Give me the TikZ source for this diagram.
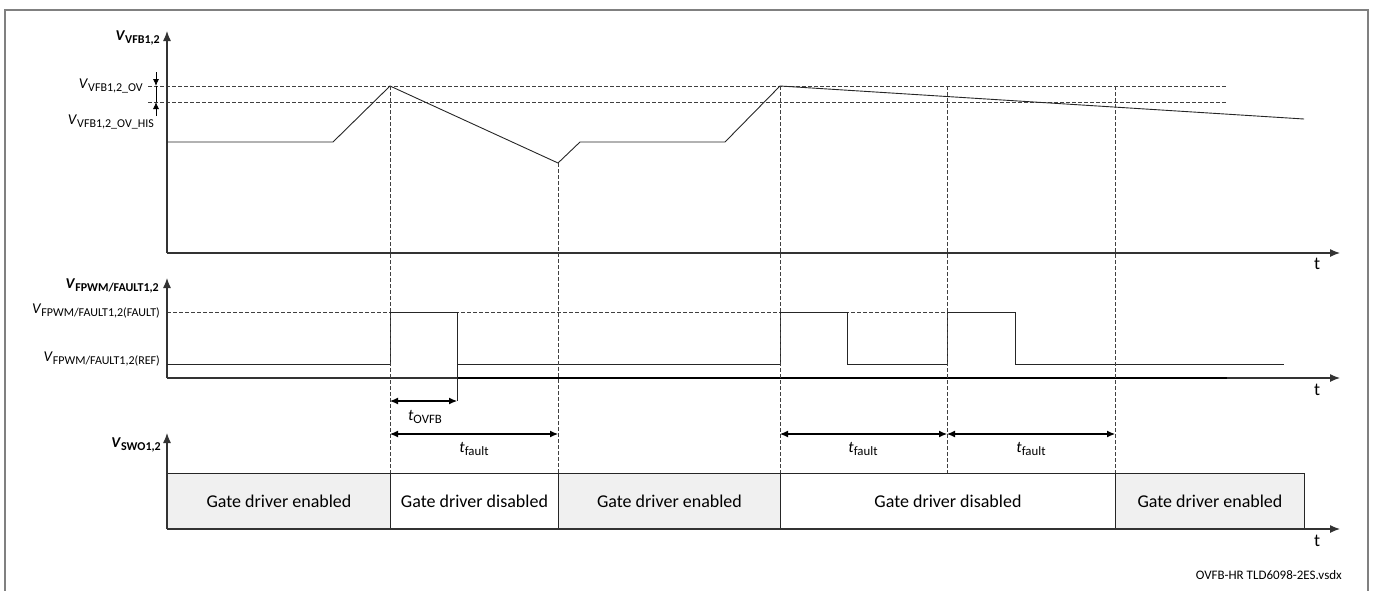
\documentclass[tikz,border=0pt]{standalone}
\usepackage{fontspec}
\usepackage{graphicx}
\setmainfont{Carlito}
\usetikzlibrary{arrows.meta}
\newcommand\sbx[1]{\raisebox{-0.35ex}{\scalebox{0.8}{#1}}}
\newcommand\lblV[1]{\textit{V}\sbx{#1}}
\newcommand\lblVb[1]{\textbf{\textit{V}\sbx{#1}}}
\newcommand\lblt[1]{\textit{t}\sbx{#1}}
\tikzset{
  frameline/.style={draw=black!50, line width=2pt},
  axisline/.style={draw=black!80, line width=1.2pt, -{Latex[length=10pt,width=8pt]}},
  sig/.style={draw=black!85, line width=0.9pt},
  guide/.style={draw=black!75, line width=0.8pt, dash pattern=on 3.5pt off 2.5pt},
  dimline/.style={draw=black, line width=1.1pt, {Latex[length=8pt,width=7pt]}-{Latex[length=8pt,width=7pt]}},
  smallarr/.style={draw=black, line width=0.8pt, -{Latex[length=7pt,width=6pt]}},
  lab/.style={font=\fontsize{15}{17}\selectfont, inner sep=0pt, anchor=east},
  tlab/.style={font=\fontsize{18}{20}\selectfont, inner sep=0pt},
  dlab/.style={font=\fontsize{16}{18}\selectfont, inner sep=0pt},
  gbox/.style={draw=black!85, line width=0.9pt, fill=black!6},
  wbox/.style={draw=black!85, line width=0.9pt, fill=white},
  btext/.style={font=\fontsize{18}{20}\selectfont, inner sep=0pt},
}
\begin{document}
\begin{tikzpicture}[x=1pt,y=-1pt]
\useasboundingbox (0,0) rectangle (1373,590);
% frame
\draw[frameline] (5,591) -- (5,10) -- (1368,10) -- (1368,591);

% ---------- top plot ----------
\coordinate (o1) at (167,253);
\coordinate (y1) at (167,31);
\coordinate (x1) at (1340,253);
\draw[guide] (148,86) -- (1227,86);
\draw[guide] (148,102) -- (1227,102);
\draw[axisline] (o1) -- (y1);
\draw[axisline] (o1) -- (x1);
\node[tlab, anchor=north] (t1) at (1317,258) {t};
\node[lab] (ly1) at (160,38) {\lblVb{VFB1,2}};
\node[lab] (lov) at (143,86) {\lblV{VFB1,2\_OV}};
\node[lab] (lhis) at (154,122) {\lblV{VFB1,2\_OV\_HIS}};
% hysteresis arrows
\coordinate (h0) at (156,72);
\coordinate (h1) at (156,86);
\coordinate (h2) at (156,102);
\coordinate (h3) at (156,116);
\draw[smallarr] (h0) -- (h1);
\draw[smallarr] (h3) -- (h2);
\draw[draw=black, line width=0.8pt] (h1) -- (h2);
% signal
\coordinate (p1) at (390,86);
\coordinate (v1) at (558,163);
\coordinate (p2) at (780,86);
\draw[sig] (167,142) -- (333,142) -- (p1) -- (v1) -- (580,142) -- (725,142) -- (p2) -- (1304,119);

% ---------- middle plot ----------
\coordinate (o2) at (167,378);
\coordinate (y2) at (167,278);
\coordinate (x2) at (1340,378);
\draw[guide] (167,312) -- (947,312);
\draw[axisline] (o2) -- (y2);
\draw[axisline] (o2) -- (x2);
\draw[draw=black, line width=1.6pt] (457,378) -- (1227,378);
\node[tlab, anchor=north] (t2) at (1317,384) {t};
\node[lab] (ly2) at (159,286) {\lblVb{FPWM/FAULT1,2}};
\node[lab] (lf) at (160,311) {\lblV{FPWM/FAULT1,2(FAULT)}};
\node[lab] (lr) at (160,359) {\lblV{FPWM/FAULT1,2(REF)}};
\draw[sig] (167,364) -- (390,364) -- (390,312) -- (457,312) -- (457,364) -- (780,364)
  -- (780,312) -- (847,312) -- (847,364) -- (947,364) -- (947,312) -- (1015,312)
  -- (1015,364) -- (1284,364);
\draw[sig] (457,364) -- (457,401);

% ---------- vertical guides ----------
\draw[guide] (p1) -- (390,473);
\draw[guide] (v1) -- (558,473);
\draw[guide] (p2) -- (780,473);
\draw[guide] (947,86) -- (947,473);
\draw[guide] (1115,86) -- (1115,473);

% ---------- timing arrows ----------
\coordinate (a1) at (390,401);
\coordinate (a2) at (457,401);
\draw[dimline] (a1) -- (a2);
\node[dlab] (tov) at (425,417) {\lblt{OVFB}};
\coordinate (b1) at (390,434);
\coordinate (b2) at (558,434);
\draw[dimline] (b1) -- (b2);
\node[dlab] (tf1) at (474,449) {\lblt{fault}};
\coordinate (c1) at (780,434);
\coordinate (c2) at (947,434);
\coordinate (c3) at (1115,434);
\draw[dimline] (c1) -- (c2);
\draw[dimline] (c2) -- (c3);
\node[dlab] (tf2) at (863,449) {\lblt{fault}};
\node[dlab] (tf3) at (1031,449) {\lblt{fault}};

% ---------- bottom plot ----------
\coordinate (o3) at (167,529);
\coordinate (y3) at (167,433);
\coordinate (x3) at (1340,529);
\node[gbox, minimum width=223pt, minimum height=56pt, anchor=north west, inner sep=0pt] (g1) at (167,473) {};
\node[wbox, minimum width=168pt, minimum height=56pt, anchor=north west, inner sep=0pt] (g2) at (390,473) {};
\node[gbox, minimum width=222pt, minimum height=56pt, anchor=north west, inner sep=0pt] (g3) at (558,473) {};
\node[wbox, minimum width=335pt, minimum height=56pt, anchor=north west, inner sep=0pt] (g4) at (780,473) {};
\node[gbox, minimum width=189pt, minimum height=56pt, anchor=north west, inner sep=0pt] (g5) at (1115,473) {};
\node[btext] at (g1.center) {Gate driver enabled};
\node[btext] at (g2.center) {Gate driver disabled};
\node[btext] at (g3.center) {Gate driver enabled};
\node[btext] at (g4.center) {Gate driver disabled};
\node[btext] at (g5.center) {Gate driver enabled};
\draw[axisline] (o3) -- (y3);
\draw[axisline] (o3) -- (x3);
\node[tlab, anchor=north] (t3) at (1317,535) {t};
\node[lab] (ly3) at (161,445) {\lblVb{SWO1,2}};
\node[font=\fontsize{13}{15}\selectfont, inner sep=0pt, anchor=east] (fn) at (1342,575) {OVFB-HR TLD6098-2ES.vsdx};
\end{tikzpicture}
\end{document}
